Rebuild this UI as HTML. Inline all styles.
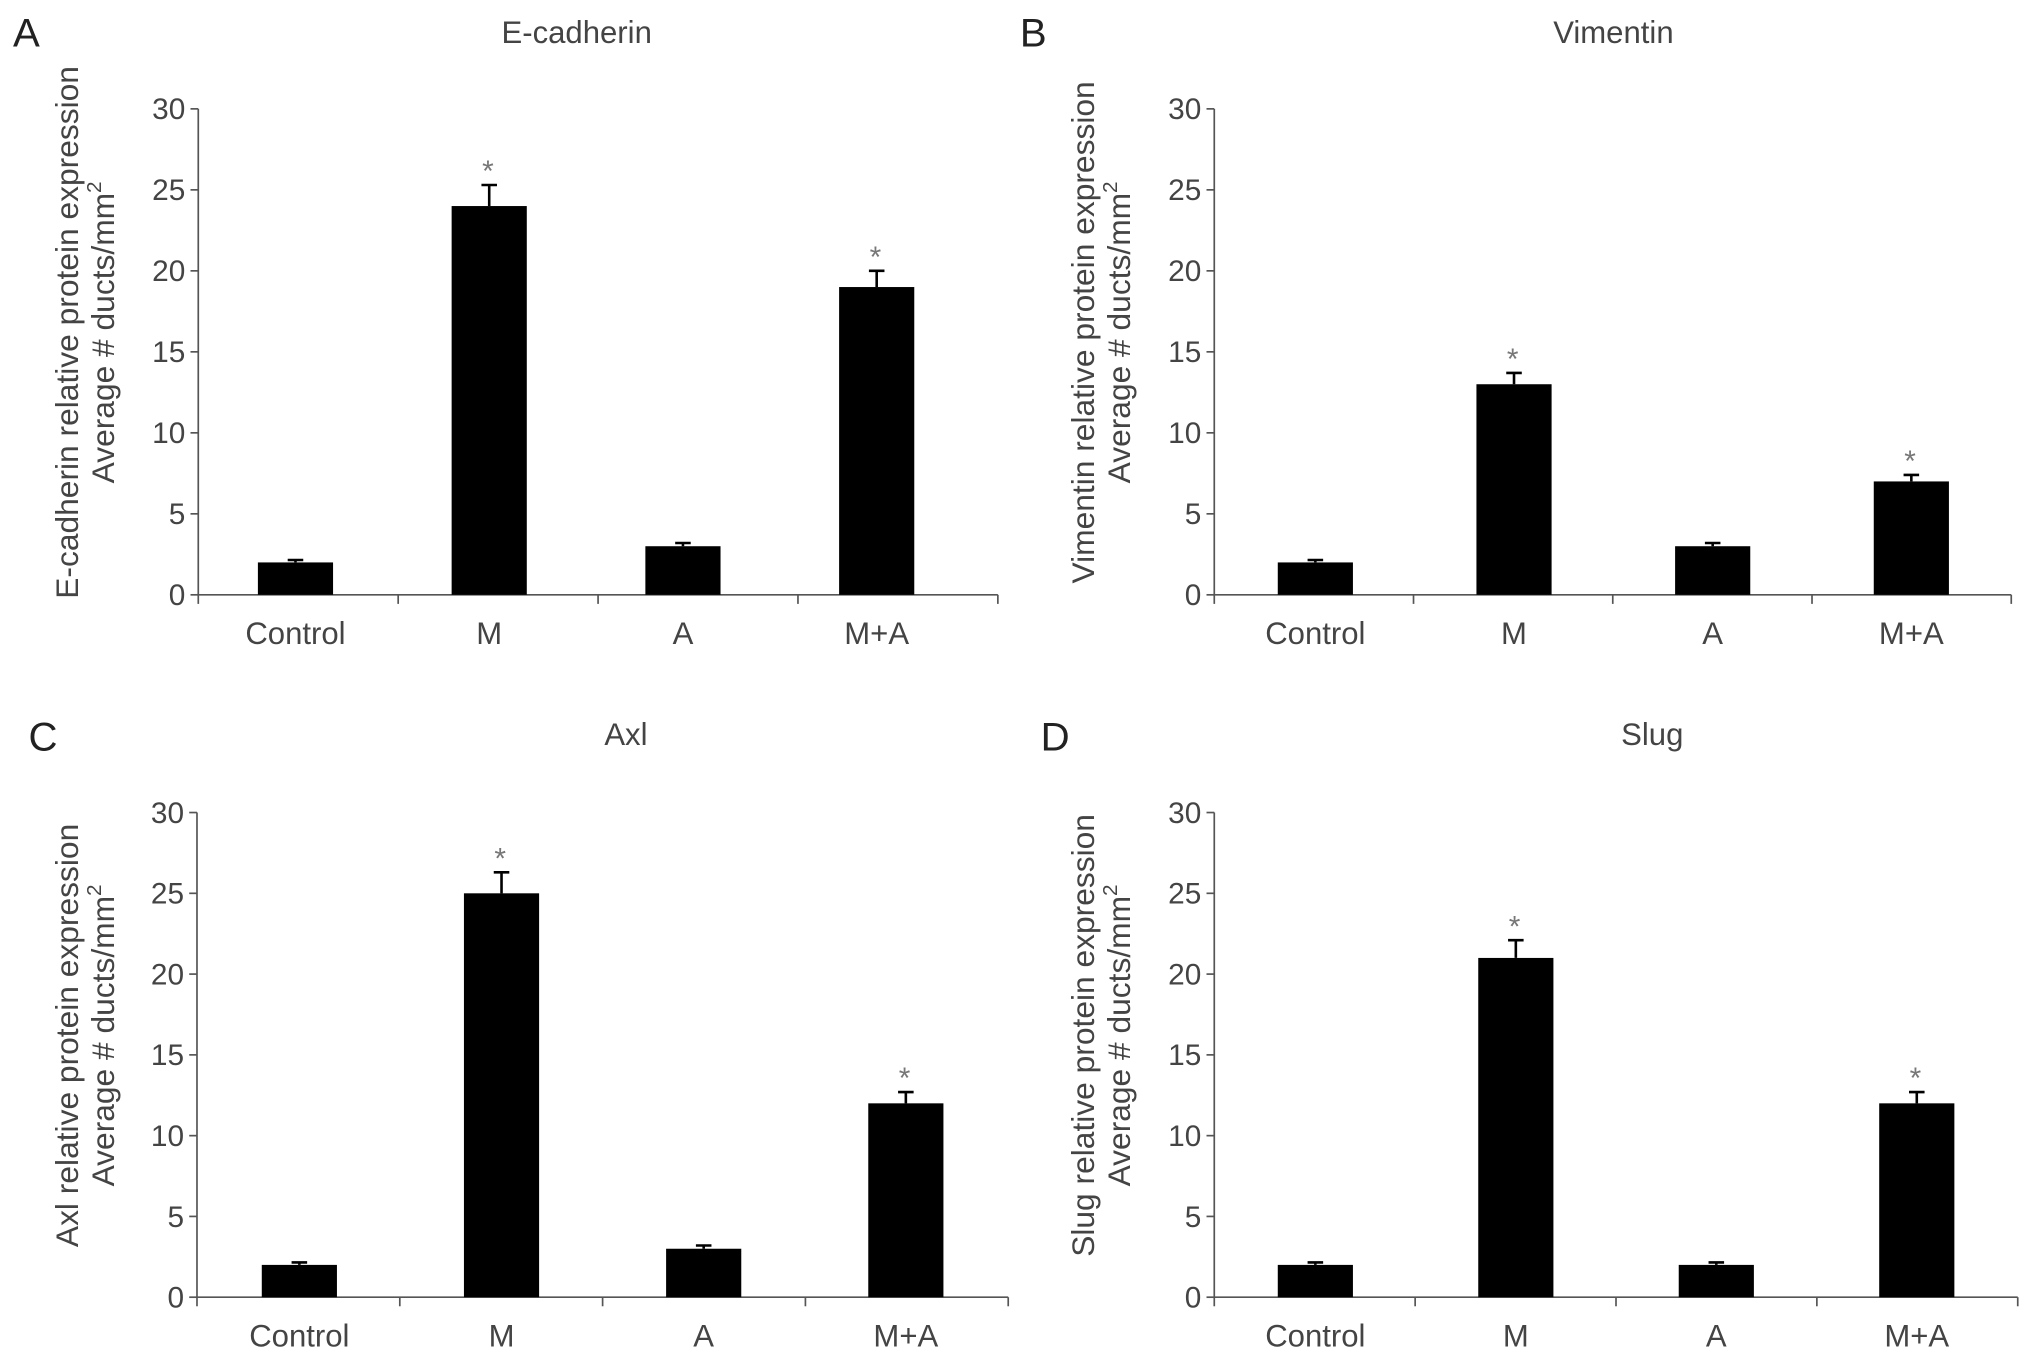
<!DOCTYPE html>
<html><head><meta charset="utf-8"><style>
html,body{margin:0;padding:0;background:#fff;}
svg{display:block;font-family:"Liberation Sans",sans-serif;}
</style></head><body>
<svg id="fig" width="2032" height="1362" viewBox="0 0 1568 1051" xmlns="http://www.w3.org/2000/svg"></svg>
<script>
const categories = ["Control","M","A","M+A"];
const titles = ["E-cadherin","Vimentin","Axl","Slug"];
const letters = ["A","B","C","D"];
const valuesA = [2,24,3,19];
const errorsA = [0.15,1.3,0.2,1.0];
const valuesB = [2,13,3,7];
const errorsB = [0.15,0.7,0.2,0.4];
const valuesC = [2,25,3,12];
const errorsC = [0.15,1.3,0.2,0.7];
const valuesD = [2,21,2,12];
const errorsD = [0.15,1.1,0.15,0.7];
const significant = [false,true,false,true];
const yTicks = [0,5,10,15,20,25,30];
const yMax = 30;

const NS="http://www.w3.org/2000/svg";
const svg=document.getElementById('fig');
function mk(tag,attrs,parent){const e=document.createElementNS(NS,tag);for(const k in attrs)e.setAttribute(k,attrs[k]);(parent||svg).appendChild(e);return e;}

const panels=[
 {vals:valuesA,errs:errorsA,x0:153,x1:770,yTop:84,yBot:459,bs:228,bst:149.5,titleX:445,titleY:33,letX:10,letY:36,ylabX:60},
 {vals:valuesB,errs:errorsB,x0:937,x1:1552,yTop:84,yBot:459,bs:1015,bst:153.3,titleX:1245,titleY:33,letX:787,letY:36,ylabX:844},
 {vals:valuesC,errs:errorsC,x0:152,x1:778,yTop:627,yBot:1001,bs:231,bst:156,titleX:483,titleY:575,letX:22,letY:579,ylabX:60},
 {vals:valuesD,errs:errorsD,x0:937,x1:1557,yTop:627,yBot:1001,bs:1015,bst:154.7,titleX:1275,titleY:575,letX:803,letY:579,ylabX:844}
];

panels.forEach((p,pi)=>{
  const g=mk('g',{});
  
  
  const yS=v=>p.yBot-(v/yMax)*(p.yBot-p.yTop);
  const band=(p.x1-p.x0)/categories.length;
  const xC=i=>p.bs+p.bst*i;
  const letter=mk('text',{x:p.letX,y:p.letY,'font-size':31,fill:'#222'},g);letter.textContent=letters[pi];
  
  
  const t=mk('text',{x:p.titleX,y:p.titleY,'font-size':24,fill:'#444','text-anchor':'middle'},g);t.textContent=titles[pi];
  
  
  const cy=(p.yTop+p.yBot)/2-15;
  const yl=mk('text',{transform:`translate(${p.ylabX},${cy}) rotate(-90)`,'font-size':24.5,fill:'#444','text-anchor':'middle'},g);
  
  
  const ts1=mk('tspan',{x:0,y:0},yl);ts1.textContent=titles[pi]+" relative protein expression";
  const ts2=mk('tspan',{x:0,y:28},yl);ts2.textContent="Average # ducts/mm";
  const sup=mk('tspan',{dy:-10,'font-size':16},yl);sup.textContent="2";
  const ax=mk('path',{d:`M${p.x0},${p.yTop}V${p.yBot}H${p.x1}`,stroke:'#555','stroke-width':1.3,fill:'none'},g);
  
  
  yTicks.forEach(v=>{
    mk('line',{x1:p.x0-6,x2:p.x0,y1:yS(v),y2:yS(v),stroke:'#555','stroke-width':1.3},g);
    const tl=mk('text',{x:p.x0-10,y:yS(v)+8,'font-size':23,fill:'#444','text-anchor':'end'},g);tl.textContent=v;
    
    
  });
  for(let i=0;i<=categories.length;i++){
    const x=p.x0+band*i;
    mk('line',{x1:x,x2:x,y1:p.yBot,y2:p.yBot+7,stroke:'#555','stroke-width':1.3},g);
  }
  categories.forEach((c,i)=>{
    const v=p.vals[i],e=p.errs[i],w=58;
    const b=mk('rect',{x:xC(i)-w/2,y:yS(v),width:w,height:p.yBot-yS(v),fill:'#000'},g);
    
    
    const eb=mk('path',{d:`M${xC(i)},${yS(v)}V${yS(v+e)}M${xC(i)-6},${yS(v+e)}H${xC(i)+6}`,stroke:'#000','stroke-width':2,fill:'none'},g);
    
    
    if(significant[i]){
      const s=mk('text',{x:xC(i)-1,y:yS(v+e)-3,'font-size':23,fill:'#777','text-anchor':'middle'},g);s.textContent="*";
      
      
    }
    const cl=mk('text',{x:xC(i),y:p.yBot+38,'font-size':24,fill:'#444','text-anchor':'middle'},g);cl.textContent=c;
    
    
  });
});
</script>
</body></html>
